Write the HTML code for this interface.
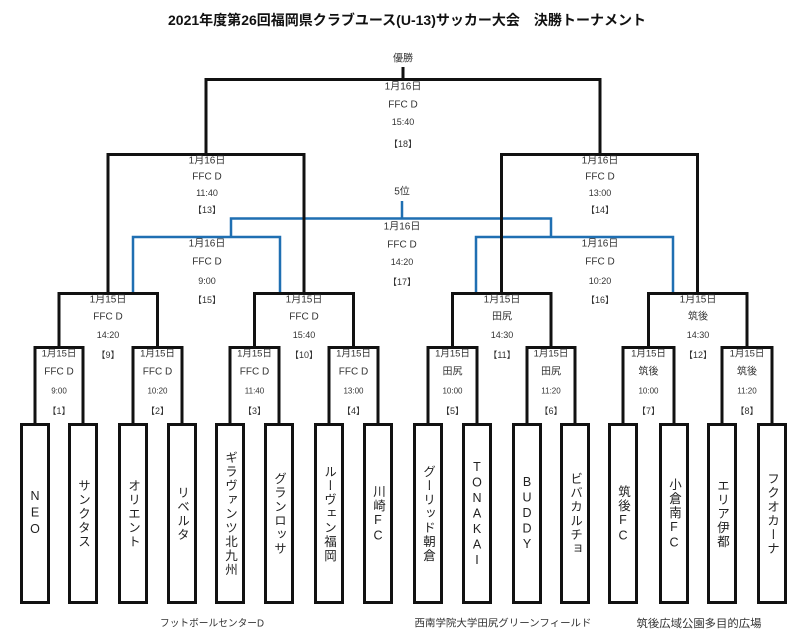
<!DOCTYPE html>
<html><head><meta charset="utf-8">
<style>
html,body{margin:0;padding:0;background:#fff;}
body{width:806px;height:640px;position:relative;overflow:hidden;font-family:"Liberation Sans","Noto Sans CJK JP",sans-serif;}
svg{position:absolute;left:0;top:0;}
svg text{font-family:"Liberation Sans","Noto Sans CJK JP",sans-serif;fill:#333;}
.t{position:absolute;top:425px;width:30px;height:178px;display:flex;align-items:center;justify-content:center;}
.t span{writing-mode:vertical-rl;text-orientation:upright;font-size:12.5px;letter-spacing:1.5px;line-height:30px;color:#222;font-family:"Liberation Sans","Noto Sans CJK JP",sans-serif;}
</style></head><body>
<svg width="806" height="640" viewBox="0 0 806 640" xmlns="http://www.w3.org/2000/svg">
<text x="168" y="25" font-size="14" font-weight="bold" textLength="478" lengthAdjust="spacingAndGlyphs" style="fill:#111">2021年度第26回福岡県クラブユース(U-13)サッカー大会　決勝トーナメント</text>

<g fill="none" stroke="#1f6fb2" stroke-width="2.5">
<polyline points="133,292 133,237 280,237 280,292"/>
<polyline points="476,292 476,237 673,237 673,292"/>
<polyline points="231,237 231,218.5 551,218.5 551,237"/>
<line x1="402" y1="201" x2="402" y2="218"/>
</g>

<g fill="none" stroke="#111" stroke-width="3">
<line x1="403" y1="67" x2="403" y2="79"/>
<polyline points="206,154 206,79.5 600,79.5 600,154"/>
<polyline points="108,293 108,154.5 304,154.5 304,293"/>
<polyline points="501.5,293 501.5,154.5 697.5,154.5 697.5,293"/>
<polyline points="59,347 59,293.5 157.5,293.5 157.5,347"/>
<polyline points="254.5,347 254.5,293.5 353.5,293.5 353.5,347"/>
<polyline points="452.5,347 452.5,293.5 551,293.5 551,347"/>
<polyline points="648.5,347 648.5,293.5 747,293.5 747,347"/>
<polyline points="35,423 35,347.5 83,347.5 83,423"/>
<polyline points="133,423 133,347.5 182,347.5 182,423"/>
<polyline points="230,423 230,347.5 279,347.5 279,423"/>
<polyline points="329,423 329,347.5 378,347.5 378,423"/>
<polyline points="428,423 428,347.5 477,347.5 477,423"/>
<polyline points="527,423 527,347.5 575,347.5 575,423"/>
<polyline points="623,423 623,347.5 674,347.5 674,423"/>
<polyline points="722,423 722,347.5 772,347.5 772,423"/>
<rect x="21.5" y="424.5" width="27" height="178"/>
<rect x="69.5" y="424.5" width="27" height="178"/>
<rect x="119.5" y="424.5" width="27" height="178"/>
<rect x="168.5" y="424.5" width="27" height="178"/>
<rect x="216.5" y="424.5" width="27" height="178"/>
<rect x="265.5" y="424.5" width="27" height="178"/>
<rect x="315.5" y="424.5" width="27" height="178"/>
<rect x="364.5" y="424.5" width="27" height="178"/>
<rect x="414.5" y="424.5" width="27" height="178"/>
<rect x="463.5" y="424.5" width="27" height="178"/>
<rect x="513.5" y="424.5" width="27" height="178"/>
<rect x="561.5" y="424.5" width="27" height="178"/>
<rect x="609.5" y="424.5" width="27" height="178"/>
<rect x="660.5" y="424.5" width="27" height="178"/>
<rect x="708.5" y="424.5" width="27" height="178"/>
<rect x="758.5" y="424.5" width="27" height="178"/>
</g>

<g text-anchor="middle" dominant-baseline="central">
<text x="403" y="59" font-size="10">優勝</text>
<text x="403" y="87" font-size="10">1月16日</text>
<text x="403" y="105" font-size="10">FFC D</text>
<text x="403" y="122" font-size="9">15:40</text>
<text x="403" y="144" font-size="9">【18】</text>

<text x="207" y="161" font-size="10">1月16日</text>
<text x="207" y="177" font-size="10">FFC D</text>
<text x="207" y="193" font-size="9">11:40</text>
<text x="207" y="210" font-size="9">【13】</text>

<text x="600" y="161" font-size="10">1月16日</text>
<text x="600" y="177" font-size="10">FFC D</text>
<text x="600" y="193" font-size="9">13:00</text>
<text x="600" y="210" font-size="9">【14】</text>

<text x="402" y="192" font-size="10">5位</text>
<text x="402" y="227" font-size="10">1月16日</text>
<text x="402" y="245" font-size="10">FFC D</text>
<text x="402" y="262" font-size="9">14:20</text>
<text x="402" y="282" font-size="9">【17】</text>

<text x="207" y="244" font-size="10">1月16日</text>
<text x="207" y="262" font-size="10">FFC D</text>
<text x="207" y="281" font-size="9">9:00</text>
<text x="207" y="300" font-size="9">【15】</text>

<text x="600" y="244" font-size="10">1月16日</text>
<text x="600" y="262" font-size="10">FFC D</text>
<text x="600" y="281" font-size="9">10:20</text>
<text x="600" y="300" font-size="9">【16】</text>

<text x="108" y="300" font-size="10">1月15日</text>
<text x="108" y="317" font-size="10">FFC D</text>
<text x="108" y="335" font-size="9">14:20</text>
<text x="108" y="355" font-size="9">【9】</text>

<text x="304" y="300" font-size="10">1月15日</text>
<text x="304" y="317" font-size="10">FFC D</text>
<text x="304" y="335" font-size="9">15:40</text>
<text x="304" y="355" font-size="9">【10】</text>

<text x="502" y="300" font-size="10">1月15日</text>
<text x="502" y="317" font-size="10">田尻</text>
<text x="502" y="335" font-size="9">14:30</text>
<text x="502" y="355" font-size="9">【11】</text>

<text x="698" y="300" font-size="10">1月15日</text>
<text x="698" y="317" font-size="10">筑後</text>
<text x="698" y="335" font-size="9">14:30</text>
<text x="698" y="355" font-size="9">【12】</text>

<text x="59" y="354" font-size="9.5">1月15日</text>
<text x="59" y="372" font-size="10">FFC D</text>
<text x="59" y="391" font-size="8">9:00</text>
<text x="59" y="411" font-size="9">【1】</text>

<text x="157.5" y="354" font-size="9.5">1月15日</text>
<text x="157.5" y="372" font-size="10">FFC D</text>
<text x="157.5" y="391" font-size="8">10:20</text>
<text x="157.5" y="411" font-size="9">【2】</text>

<text x="254.5" y="354" font-size="9.5">1月15日</text>
<text x="254.5" y="372" font-size="10">FFC D</text>
<text x="254.5" y="391" font-size="8">11:40</text>
<text x="254.5" y="411" font-size="9">【3】</text>

<text x="353.5" y="354" font-size="9.5">1月15日</text>
<text x="353.5" y="372" font-size="10">FFC D</text>
<text x="353.5" y="391" font-size="8">13:00</text>
<text x="353.5" y="411" font-size="9">【4】</text>

<text x="452.5" y="354" font-size="9.5">1月15日</text>
<text x="452.5" y="372" font-size="10">田尻</text>
<text x="452.5" y="391" font-size="8">10:00</text>
<text x="452.5" y="411" font-size="9">【5】</text>

<text x="551" y="354" font-size="9.5">1月15日</text>
<text x="551" y="372" font-size="10">田尻</text>
<text x="551" y="391" font-size="8">11:20</text>
<text x="551" y="411" font-size="9">【6】</text>

<text x="648.5" y="354" font-size="9.5">1月15日</text>
<text x="648.5" y="372" font-size="10">筑後</text>
<text x="648.5" y="391" font-size="8">10:00</text>
<text x="648.5" y="411" font-size="9">【7】</text>

<text x="747" y="354" font-size="9.5">1月15日</text>
<text x="747" y="372" font-size="10">筑後</text>
<text x="747" y="391" font-size="8">11:20</text>
<text x="747" y="411" font-size="9">【8】</text>

<text x="212" y="624" font-size="10" textLength="104" lengthAdjust="spacingAndGlyphs">フットボールセンターD</text>
<text x="503" y="624" font-size="10" textLength="177" lengthAdjust="spacingAndGlyphs">西南学院大学田尻グリーンフィールド</text>
<text x="699" y="624" font-size="11" textLength="125" lengthAdjust="spacingAndGlyphs">筑後広域公園多目的広場</text>
</g>
</svg>

<div class="t" style="left:20px"><span style="letter-spacing:2.5px">NEO</span></div>
<div class="t" style="left:68px"><span>サンクタス</span></div>
<div class="t" style="left:118px"><span>オリエント</span></div>
<div class="t" style="left:167px"><span>リベルタ</span></div>
<div class="t" style="left:215px"><span>ギラヴァンツ北九州</span></div>
<div class="t" style="left:264px"><span>グランロッサ</span></div>
<div class="t" style="left:314px"><span>ルーヴェン福岡</span></div>
<div class="t" style="left:363px"><span>川崎FC</span></div>
<div class="t" style="left:413px"><span>グーリッド朝倉</span></div>
<div class="t" style="left:462px"><span>TONAKAI</span></div>
<div class="t" style="left:512px"><span>BUDDY</span></div>
<div class="t" style="left:560px"><span>ビバカルチョ</span></div>
<div class="t" style="left:608px"><span>筑後FC</span></div>
<div class="t" style="left:659px"><span>小倉南FC</span></div>
<div class="t" style="left:707px"><span>エリア伊都</span></div>
<div class="t" style="left:757px"><span>フクオカーナ</span></div>
</body></html>
